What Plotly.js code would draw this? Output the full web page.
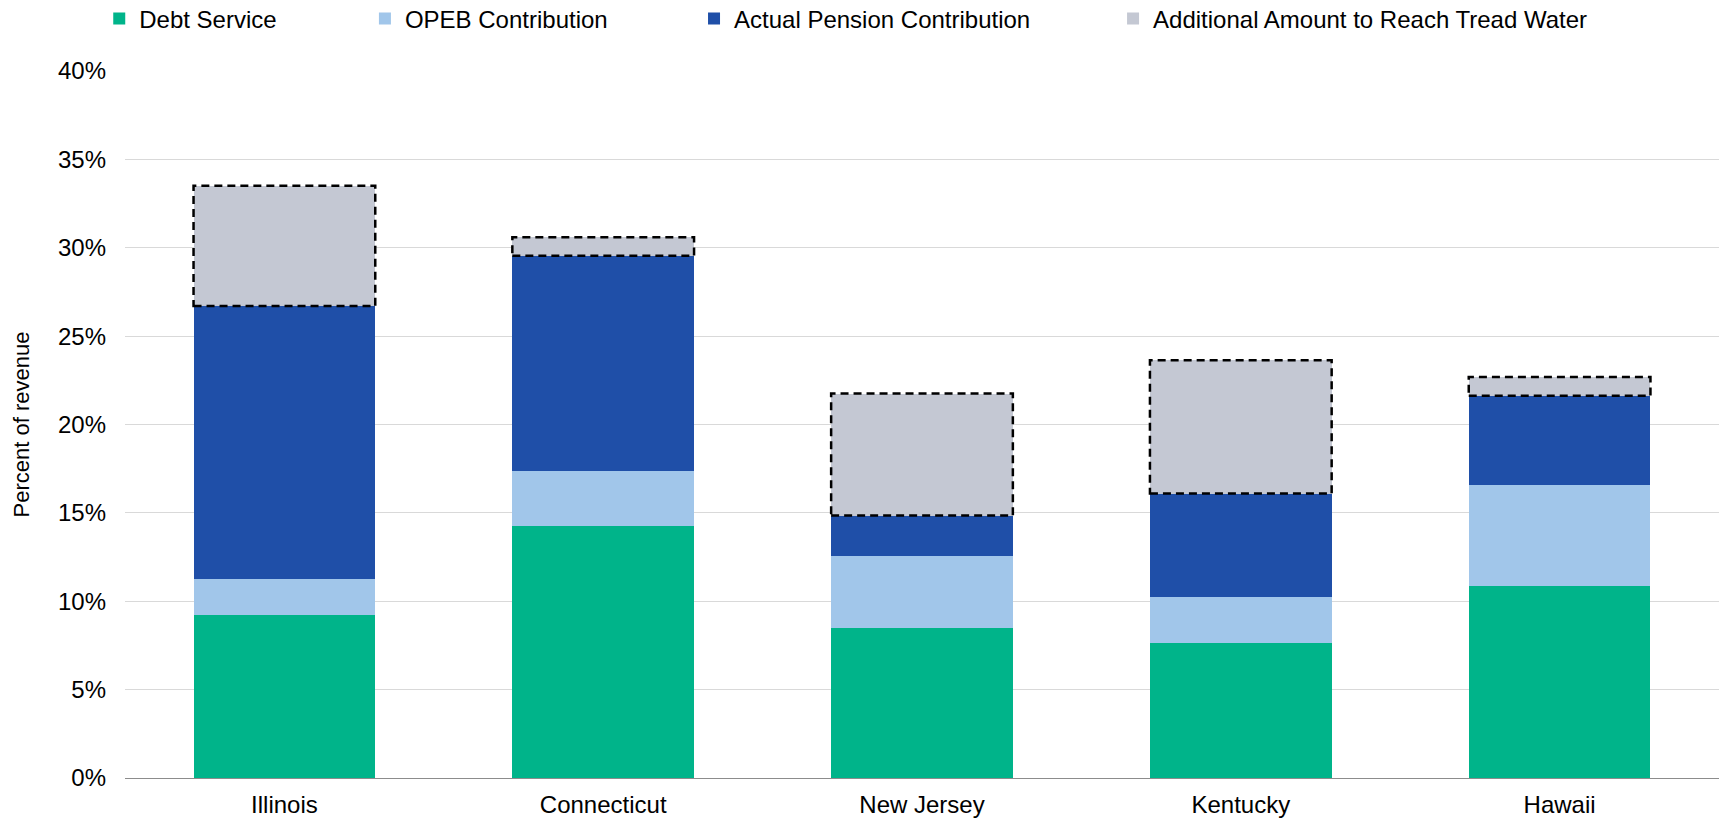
<!DOCTYPE html>
<html>
<head>
<meta charset="utf-8">
<script src="https://cdn.plot.ly/plotly-3.0.1.min.js"></script>
<style>html,body{margin:0;padding:0;background:#fff;}#chart{width:1723px;height:819px;}</style>
</head>
<body>
<div id="chart"></div>
<script>
const states = ["Illinois", "Connecticut", "New Jersey", "Kentucky", "Hawaii"];
const debtService = [9.22, 14.28, 8.48, 7.61, 10.89];
const opebContribution = [2.05, 3.11, 4.10, 2.61, 5.69];
const pensionContribution = [15.43, 12.16, 2.27, 5.87, 5.05];
const additionalTreadWater = [6.81, 1.05, 6.90, 7.54, 1.06];

const FONT = "Liberation Sans, Arial, sans-serif";
const barWidth = 0.57;

function bar(name, y, color, legend) {
  return {
    type: "bar", name: name, x: states, y: y,
    marker: {color: color, line: {width: 0}},
    legend: legend, hoverinfo: "skip"
  };
}

const traces = [
  bar("Debt Service", debtService, "#00B48A", "legend"),
  bar("OPEB Contribution", opebContribution, "#A1C6EA", "legend2"),
  bar("Actual Pension Contribution", pensionContribution, "#1F4FA8", "legend3"),
  bar("Additional Amount to Reach Tread Water", additionalTreadWater, "#C4C8D3", "legend4")
];

const shapes = states.map((s, i) => {
  const base = debtService[i] + opebContribution[i] + pensionContribution[i];
  return {
    type: "rect", xref: "x", yref: "y",
    x0: i - barWidth / 2, x1: i + barWidth / 2,
    y0: base, y1: base + additionalTreadWater[i],
    line: {color: "#000", width: 2.5, dash: "8px,5px"},
    fillcolor: "rgba(0,0,0,0)", layer: "above"
  };
});

function leg(x) {
  return {
    orientation: "h", xref: "container", yref: "container",
    x: x, xanchor: "left", y: 0.9768, yanchor: "middle",
    font: {family: FONT, size: 24, color: "#000"},
    bgcolor: "rgba(0,0,0,0)", borderwidth: 0, itemwidth: 30
  };
}

const layout = {
  width: 1723, height: 819,
  margin: {l: 125, r: 4, t: 71, b: 41, pad: 0},
  paper_bgcolor: "#fff", plot_bgcolor: "#fff",
  barmode: "stack", bargap: 1 - barWidth,
  font: {family: FONT, size: 24, color: "#000"},
  showlegend: true,
  legend: leg(0.0576),
  legend2: leg(0.2118),
  legend3: leg(0.4028),
  legend4: leg(0.6460),
  xaxis: {
    type: "category", showgrid: false, zeroline: false,
    showline: true, linecolor: "#8c8c8c", linewidth: 1,
    ticks: "", ticklabelstandoff: 5,
    tickfont: {family: FONT, size: 24, color: "#000"},
    automargin: false
  },
  yaxis: {
    range: [0, 40], dtick: 5, ticksuffix: "%",
    showgrid: true, gridcolor: "#d9d9d9", gridwidth: 1,
    zeroline: false, showline: false, ticks: "",
    ticklabelstandoff: 18,
    tickfont: {family: FONT, size: 24, color: "#000"},
    title: {text: "Percent of revenue", font: {family: FONT, size: 22, color: "#000"}, standoff: 22},
    automargin: false
  },
  shapes: shapes
};

Plotly.newPlot("chart", traces, layout, {displayModeBar: false, staticPlot: true});
</script>
</body>
</html>
